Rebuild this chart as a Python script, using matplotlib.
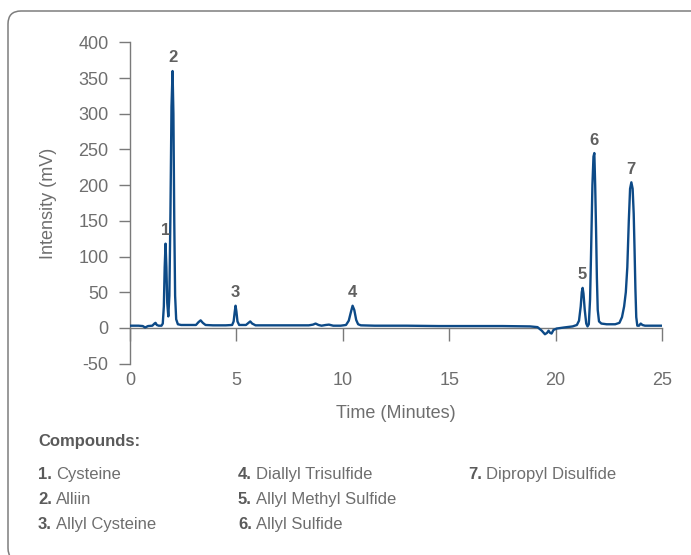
import matplotlib
matplotlib.use("Agg")
import matplotlib.pyplot as plt
from matplotlib.patches import FancyBboxPatch
from matplotlib.transforms import IdentityTransform

# ---------------- data ----------------
time_min = [0.00, 0.40, 0.60, 0.71, 0.85, 1.05, 1.15, 1.20, 1.26, 1.35, 1.48, 1.54, 1.59,
            1.63, 1.67, 1.71, 1.75, 1.80, 1.85, 1.90, 1.95, 2.00, 2.04, 2.08, 2.12, 2.17,
            2.25, 2.40, 2.80, 3.10, 3.22, 3.32, 3.42, 3.55, 3.90, 4.50, 4.80, 4.87, 4.92,
            4.96, 5.00, 5.05, 5.13, 5.45, 5.57, 5.65, 5.74, 5.90, 6.50, 7.50, 8.40, 8.60,
            8.72, 8.86, 9.00, 9.20, 9.35, 9.55, 9.90, 10.15, 10.28, 10.38, 10.46, 10.54,
            10.63, 10.72, 10.85, 11.50, 13.00, 14.50, 16.00, 17.50, 18.80, 19.15, 19.35,
            19.50, 19.60, 19.67, 19.74, 19.81, 19.90, 20.05, 20.40, 20.80, 21.00, 21.10,
            21.18, 21.23, 21.27, 21.31, 21.37, 21.44, 21.50, 21.56, 21.62, 21.67, 21.73,
            21.78, 21.82, 21.86, 21.90, 21.94, 21.98, 22.04, 22.15, 22.40, 22.80, 23.00,
            23.12, 23.22, 23.30, 23.37, 23.44, 23.50, 23.56, 23.62, 23.67, 23.71, 23.75,
            23.79, 23.84, 23.92, 24.00, 24.08, 24.20, 24.60, 25.00]
intensity_mv = [3, 3, 2.5, 0.5, 2.5, 3, 6, 7, 4, 3, 3, 6, 30,
                85, 118, 85, 35, 16, 45, 160, 310, 360, 300, 150, 45, 12,
                5, 4, 4, 4, 8, 10.5, 7, 4, 3.5, 3.5, 4, 9, 22,
                31, 23, 9, 4, 4, 7, 9, 6, 3.5, 3.5, 3.5, 3.5, 4.5,
                6, 4, 3, 4, 4.5, 3, 3, 4, 10, 22, 31, 25,
                11, 5, 3.5, 3, 3, 2.5, 2.5, 2.5, 2, 1, -4,
                -9, -7, -4, -7, -8, -3, -1, 0.5, 2, 4, 10,
                30, 50, 56, 48, 25, 6, 2, 5, 40, 110, 200,
                240, 245, 200, 140, 70, 25, 9, 6, 5, 5, 7,
                15, 30, 50, 85, 150, 195, 204, 195, 160, 110, 55,
                15, 3, 3, 6, 4, 3, 3, 3]

peak_ids = ["1", "2", "3", "4", "5", "6", "7"]
peak_times = [1.67, 2.00, 4.96, 10.46, 21.27, 21.82, 23.56]
peak_heights = [118, 360, 31, 31, 56, 245, 204]

compound_names = ["Cysteine", "Alliin", "Allyl Cysteine", "Diallyl Trisulfide",
                  "Allyl Methyl Sulfide", "Allyl Sulfide", "Dipropyl Disulfide"]

x_ticks = [0, 5, 10, 15, 20, 25]
y_ticks = [-50, 0, 50, 100, 150, 200, 250, 300, 350, 400]

# ---------------- style ----------------
plt.rcParams['font.family'] = ['Liberation Sans', 'DejaVu Sans']
plt.rcParams['axes.unicode_minus'] = False
TXT = '#6e6e6e'
AX = '#7a7a7a'
LINE = '#0d4a87'

W, H = 691, 555
fig = plt.figure(figsize=(W / 100, H / 100), dpi=100)
fig.patch.set_facecolor('white')

# outer rounded border (pixel coordinates)
border = FancyBboxPatch((8, -6), 740, (H - 11) + 6,
                        boxstyle="round,pad=0,rounding_size=13",
                        transform=IdentityTransform(), facecolor='none',
                        edgecolor='#7d7d7d', linewidth=1.1)
fig.add_artist(border)

left, right = 130 / W, 662 / W
bottom, top = 1 - 363.5 / H, 1 - 42.5 / H
ax = fig.add_axes([left, bottom, right - left, top - bottom])
ax.set_facecolor('none')

ax.plot(time_min, intensity_mv, color=LINE, linewidth=1.7, solid_joinstyle='round', zorder=3)

ax.set_xlim(0, 25)
ax.set_ylim(-50, 400)
ax.set_xticks(x_ticks)
ax.set_yticks(y_ticks)

for s in ['top', 'right']:
    ax.spines[s].set_visible(False)
ax.spines['bottom'].set_position(('data', 0))
for s in ['left', 'bottom']:
    ax.spines[s].set_color(AX)
    ax.spines[s].set_linewidth(1.0)

ax.tick_params(axis='x', direction='out', length=9.5, width=1.0, color=AX,
               labelcolor=TXT, labelsize=13, pad=22.5)
ax.tick_params(axis='y', direction='out', length=8, width=1.0, color=AX,
               labelcolor=TXT, labelsize=13, pad=7.5)

ax.set_xlabel('Time (Minutes)', fontsize=13, color=TXT, labelpad=11)
ax.set_ylabel('Intensity (mV)', fontsize=13, color=TXT, labelpad=15)

for pid, pt, ph in zip(peak_ids, peak_times, peak_heights):
    ax.annotate(pid, xy=(pt, ph), xytext=(0, 4), textcoords='offset points',
                ha='center', va='bottom', fontsize=12, fontweight='bold', color='#606060')

# ---------------- compound list ----------------
def fx(px):
    return px / W

def fy(py):
    return 1 - py / H

fig.text(fx(38), fy(446), 'Compounds:', fontsize=12, fontweight='bold', color='#5a5a5a',
         ha='left', va='baseline')

col_x = [38, 238, 468]
row_y = [479, 504, 529]  # baselines in pixels from top
fig.canvas.draw()
renderer = fig.canvas.get_renderer()
for i, name in enumerate(compound_names):
    col = i // 3
    row = i % 3
    t1 = fig.text(fx(col_x[col]), fy(row_y[row]), f'{i + 1}.', fontsize=12,
                  fontweight='bold', color='#5a5a5a', ha='left', va='baseline')
    bb = t1.get_window_extent(renderer=renderer)
    fig.text((bb.x1 + 4) / W, fy(row_y[row]), name, fontsize=12, color=TXT,
             ha='left', va='baseline')

fig.savefig('out.png', dpi=100)
